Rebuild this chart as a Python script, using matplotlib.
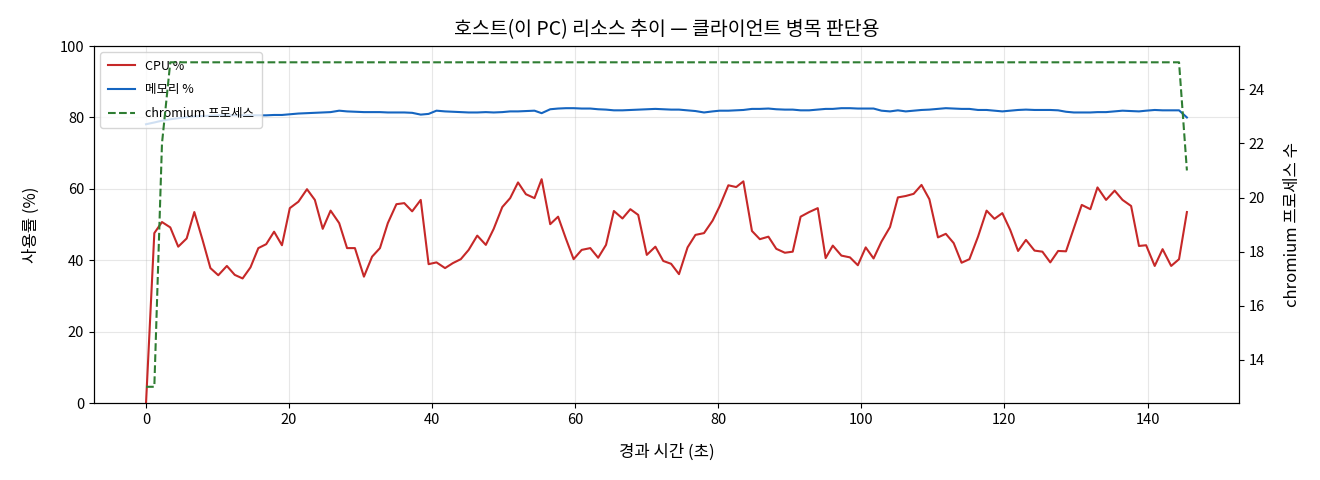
import matplotlib
matplotlib.use("Agg")
import matplotlib.pyplot as plt

plt.rcParams['font.family'] = ['Noto Sans CJK KR', 'DejaVu Sans']
plt.rcParams['axes.unicode_minus'] = False

elapsed = [
    0.0, 1.16, 2.23, 3.39, 4.5, 5.68, 6.75, 7.9, 9.0, 10.1,
    11.3, 12.4, 13.5, 14.6, 15.7, 16.8, 17.9, 19.0, 20.1, 21.3,
    22.5, 23.6, 24.7, 25.8, 27.0, 28.1, 29.2, 30.46, 31.6, 32.7,
    33.8, 35.0, 36.1, 37.2, 38.4, 39.5, 40.6, 41.8, 42.9, 44.0,
    45.1, 46.3, 47.5, 48.6, 49.8, 50.9, 52.0, 53.1, 54.3, 55.3,
    56.5, 57.6, 58.7, 59.77, 60.9, 62.1, 63.2, 64.3, 65.4, 66.6,
    67.7, 68.8, 70.0, 71.2, 72.3, 73.4, 74.5, 75.7, 76.8, 78.0,
    79.2, 80.2, 81.4, 82.5, 83.5, 84.7, 85.8, 87.0, 88.1, 89.3,
    90.4, 91.5, 92.7, 93.9, 95.0, 96.0, 97.2, 98.4, 99.5, 100.6,
    101.7, 102.8, 104.0, 105.1, 106.2, 107.3, 108.4, 109.5, 110.7, 111.8,
    112.9, 114.0, 115.1, 116.3, 117.5, 118.6, 119.7, 120.8, 121.9, 123.0,
    124.2, 125.3, 126.4, 127.5, 128.6, 129.7, 130.8, 132.0, 133.0, 134.2,
    135.4, 136.5, 137.7, 138.8, 139.8, 141.0, 142.1, 143.3, 144.4, 145.5,
]

cpu_pct = [
    0.0, 47.6, 50.7, 49.2, 43.8, 46.1, 53.5, 45.7, 37.8, 35.8,
    38.4, 35.9, 34.9, 38.0, 43.4, 44.5, 48.0, 44.2, 54.6, 56.4,
    59.9, 56.9, 48.8, 53.9, 50.4, 43.4, 43.4, 35.4, 41.0, 43.4,
    50.4, 55.7, 56.0, 53.7, 56.9, 38.9, 39.4, 37.8, 39.2, 40.3,
    42.9, 46.9, 44.3, 48.8, 54.9, 57.4, 61.8, 58.5, 57.4, 62.7,
    50.1, 52.2, 46.0, 40.3, 42.9, 43.4, 40.7, 44.3, 53.8, 51.7,
    54.3, 52.7, 41.5, 43.8, 39.8, 39.0, 36.1, 43.6, 47.1, 47.6,
    51.1, 55.2, 61.0, 60.5, 62.1, 48.2, 45.9, 46.6, 43.2, 42.1,
    42.4, 52.2, 53.5, 54.6, 40.6, 44.1, 41.3, 40.8, 38.6, 43.6,
    40.5, 45.2, 49.3, 57.6, 58.0, 58.6, 61.1, 57.1, 46.4, 47.4,
    44.8, 39.3, 40.3, 46.6, 53.9, 51.6, 53.2, 48.5, 42.6, 45.7,
    42.7, 42.4, 39.4, 42.6, 42.5, 49.0, 55.5, 54.3, 60.4, 56.9,
    59.5, 56.9, 55.2, 44.0, 44.2, 38.4, 43.1, 38.4, 40.3, 53.5,
]

mem_pct = [
    78.1, 78.6, 79.1, 79.5, 79.8, 80.1, 80.3, 80.4, 80.5, 80.6,
    80.6, 80.6, 80.6, 80.6, 80.6, 80.6, 80.7, 80.7, 80.9, 81.1,
    81.2, 81.3, 81.4, 81.5, 81.9, 81.7, 81.6, 81.5, 81.5, 81.5,
    81.4, 81.4, 81.4, 81.3, 80.8, 81.0, 81.9, 81.7, 81.6, 81.5,
    81.4, 81.4, 81.5, 81.4, 81.5, 81.7, 81.7, 81.8, 81.9, 81.2,
    82.3, 82.5, 82.6, 82.6, 82.5, 82.5, 82.3, 82.2, 82.0, 82.0,
    82.1, 82.2, 82.3, 82.4, 82.3, 82.2, 82.2, 82.0, 81.8, 81.4,
    81.7, 81.9, 81.9, 82.0, 82.1, 82.4, 82.4, 82.5, 82.3, 82.2,
    82.2, 82.0, 82.0, 82.2, 82.4, 82.4, 82.6, 82.6, 82.5, 82.5,
    82.5, 81.9, 81.7, 82.0, 81.7, 81.9, 82.1, 82.2, 82.4, 82.6,
    82.5, 82.4, 82.4, 82.1, 82.1, 81.9, 81.7, 81.9, 82.1, 82.2,
    82.1, 82.1, 82.1, 82.0, 81.6, 81.4, 81.4, 81.4, 81.5, 81.5,
    81.7, 81.9, 81.8, 81.7, 81.9, 82.1, 82.0, 82.0, 82.0, 80.0,
]

chromium_procs = [
    13, 13, 22, 25, 25, 25, 25, 25, 25, 25,
    25, 25, 25, 25, 25, 25, 25, 25, 25, 25,
    25, 25, 25, 25, 25, 25, 25, 25, 25, 25,
    25, 25, 25, 25, 25, 25, 25, 25, 25, 25,
    25, 25, 25, 25, 25, 25, 25, 25, 25, 25,
    25, 25, 25, 25, 25, 25, 25, 25, 25, 25,
    25, 25, 25, 25, 25, 25, 25, 25, 25, 25,
    25, 25, 25, 25, 25, 25, 25, 25, 25, 25,
    25, 25, 25, 25, 25, 25, 25, 25, 25, 25,
    25, 25, 25, 25, 25, 25, 25, 25, 25, 25,
    25, 25, 25, 25, 25, 25, 25, 25, 25, 25,
    25, 25, 25, 25, 25, 25, 25, 25, 25, 25,
    25, 25, 25, 25, 25, 25, 25, 25, 25, 21,
]

fig = plt.figure(figsize=(13.2, 4.8), dpi=100)
ax1 = fig.add_axes([0.0712, 0.1604, 0.8674, 0.7436])

l1, = ax1.plot(elapsed, cpu_pct, color='#c62828', lw=1.5, label='CPU %')
l2, = ax1.plot(elapsed, mem_pct, color='#1565c0', lw=1.5, label='메모리 %')
ax1.set_ylim(0, 100)
ax1.set_ylabel('사용률 (%)', fontsize=12, labelpad=14)
ax1.set_xlabel('경과 시간 (초)', fontsize=12, labelpad=12)
ax1.grid(True, alpha=0.3)
ax1.tick_params(labelsize=10.5)

ax2 = ax1.twinx()
l3, = ax2.plot(elapsed, chromium_procs, color='#2e7d32', lw=1.5, ls='--', label='chromium 프로세스')
ax2.set_ylabel('chromium 프로세스 수', fontsize=12, labelpad=14)
ax2.tick_params(labelsize=10.5)

ax1.legend(handles=[l1, l2, l3], loc='upper left', fontsize=9,
           labelspacing=0.85, borderpad=0.6, handlelength=2.2)
ax1.set_title('호스트(이 PC) 리소스 추이 — 클라이언트 병목 판단용', fontsize=14, pad=8)

fig.savefig('out.png', dpi=100)
